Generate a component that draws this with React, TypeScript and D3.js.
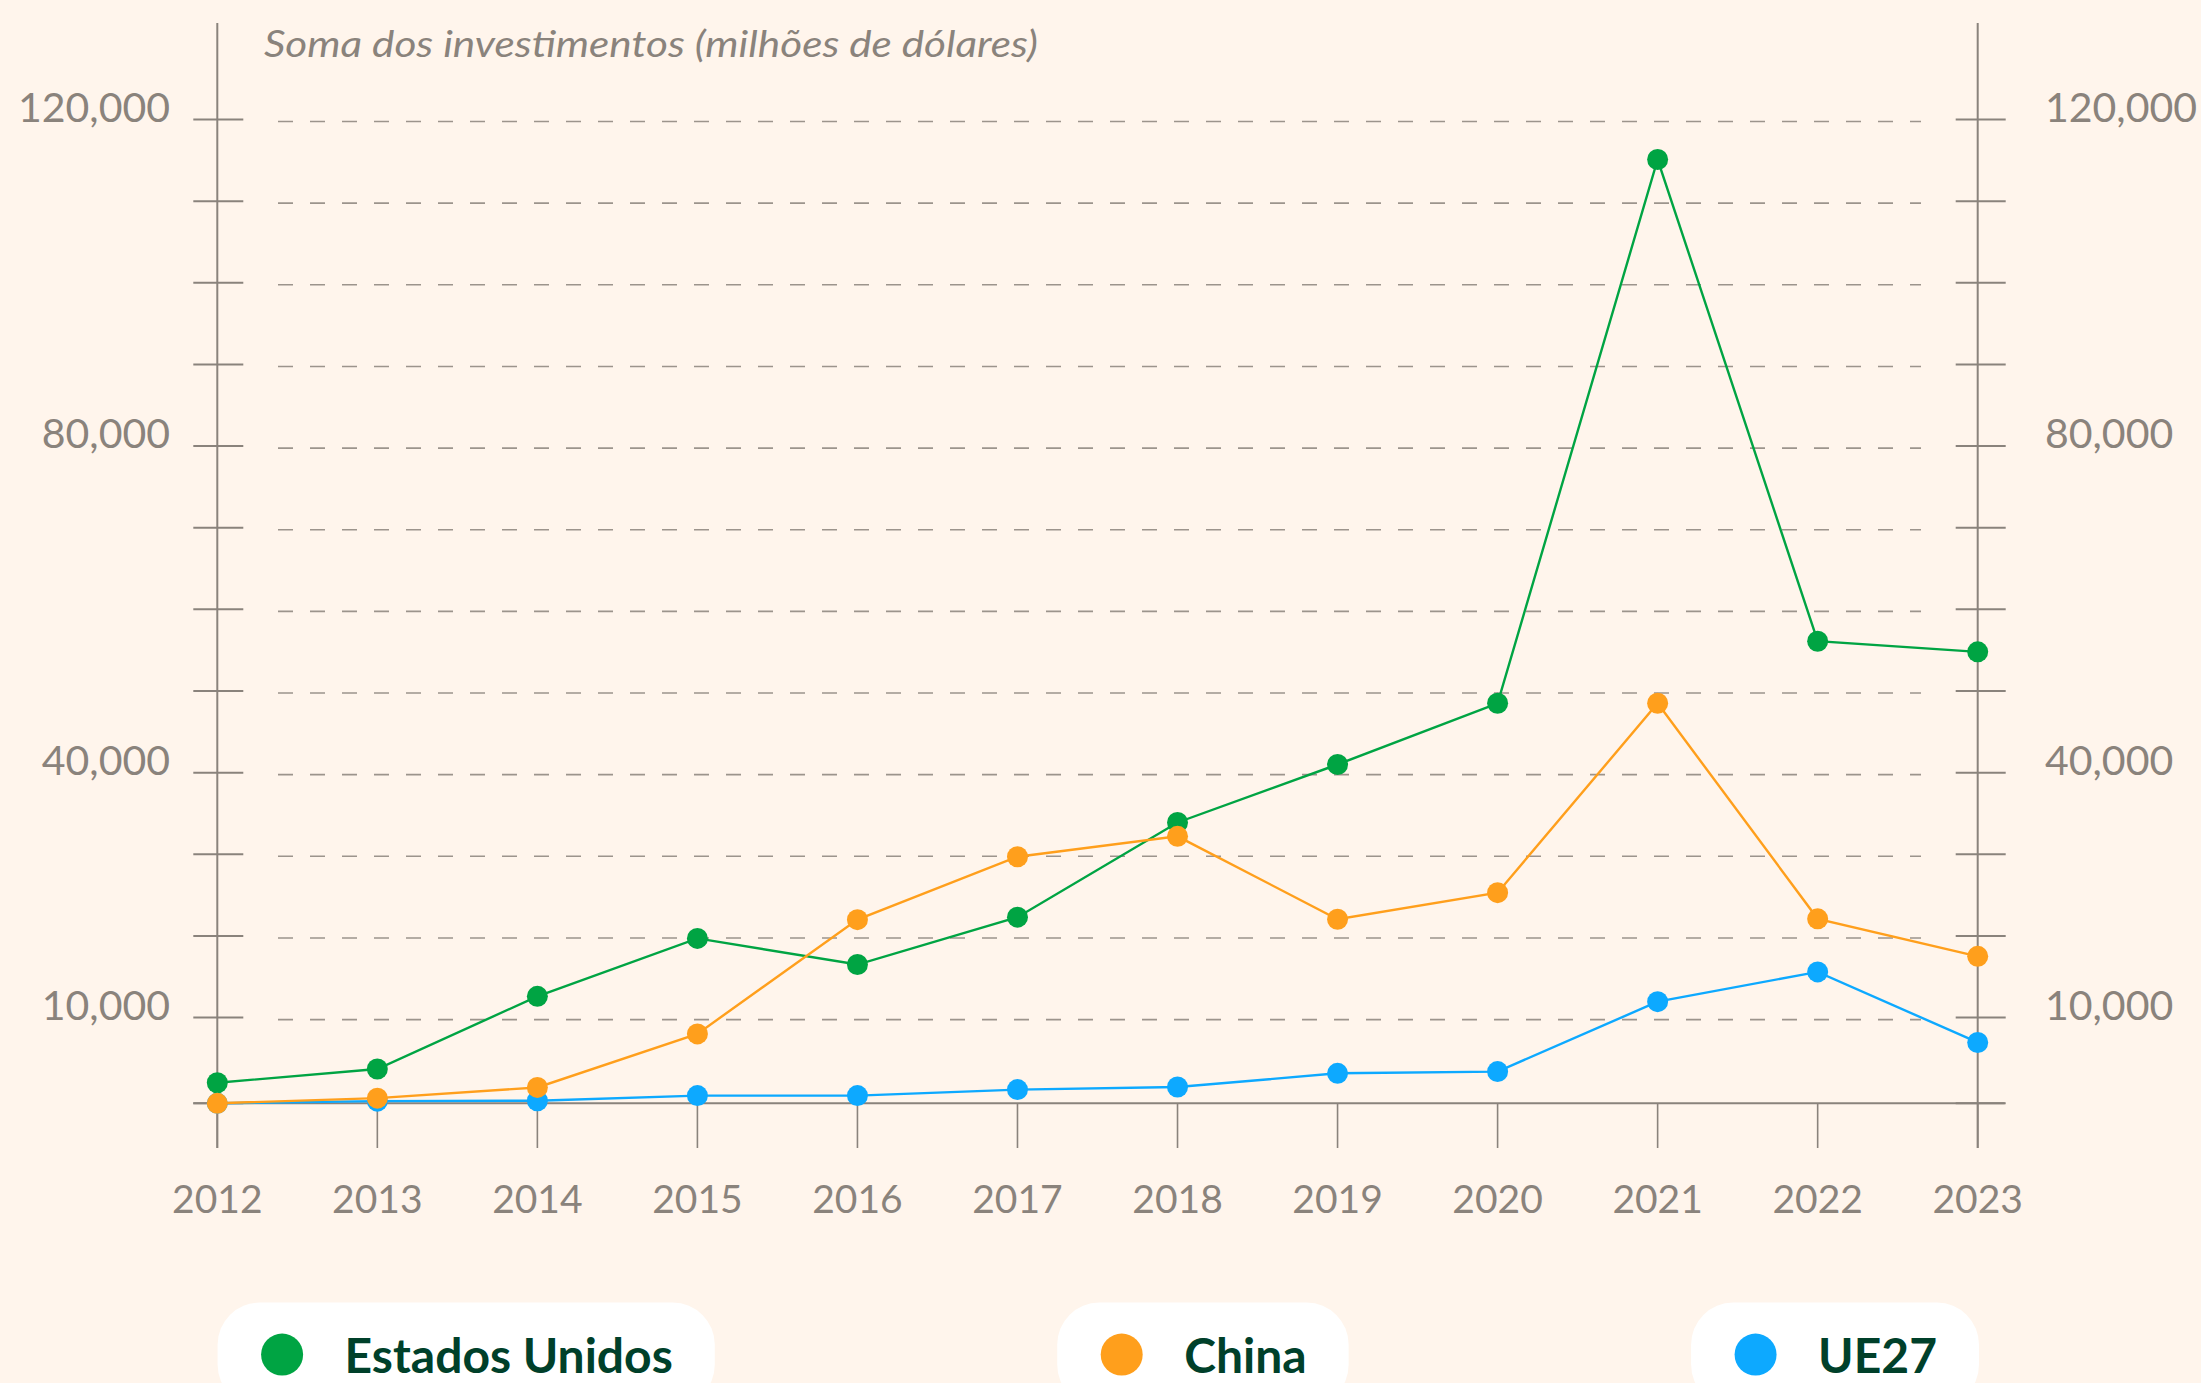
import React, { useMemo } from "react";
import * as d3 from "d3";

const years = [2012, 2013, 2014, 2015, 2016, 2017, 2018, 2019, 2020, 2021, 2022, 2023];
const usValues = [2400, 4000, 12600, 19700, 16500, 22300, 33900, 41000, 48500, 115100, 56100, 54800];
const chinaValues = [0, 600, 1850, 8100, 22000, 29700, 32200, 22050, 25300, 48500, 22100, 17500];
const euValues = [0, 250, 300, 900, 900, 1600, 1900, 3500, 3700, 11950, 15600, 7100];
const yTickValues = [0, 10000, 20000, 30000, 40000, 50000, 60000, 70000, 80000, 90000, 100000, 110000, 120000];
const gridValues = [10000, 20000, 30000, 40000, 50000, 60000, 70000, 80000, 90000, 100000, 110000, 120000];
const yLabelValues = [120000, 80000, 40000, 10000];
const seriesNames = ["Estados Unidos", "UE27", "China"];
const legendOrder = ["Estados Unidos", "China", "UE27"];
const title = "Soma dos investimentos (milhões de dólares)";

const W = 2201;
const H = 1383;
const BG = "#FFF5EC";
const AXIS = "#8A837C";
const GRID = "#9C948C";
const TEXT = "#8A837C";
const LEGEND_TEXT = "#00402A";
const colors: Record<string, string> = {
  "Estados Unidos": "#00A443",
  China: "#FF9F1C",
  UE27: "#0DA9FF",
};
const seriesData: Record<string, number[]> = {
  "Estados Unidos": usValues,
  China: chinaValues,
  UE27: euValues,
};

const FONT = "Lato, 'Open Sans', sans-serif";

function measure(text: string, font: string): number {
  const c = document.createElement("canvas");
  const ctx = c.getContext("2d");
  if (!ctx) return text.length * 25;
  ctx.font = font;
  return ctx.measureText(text).width;
}

export default function App() {
  const x = d3.scaleLinear().domain([2012, 2023]).range([217.3, 1977.7]);
  const y = d3.scaleLinear().domain([0, 10000, 120000]).range([1103.3, 1017.6, 119.5]);
  const fmt = d3.format(",");
  const line = d3
    .line<[number, number]>()
    .x((d) => x(d[0]))
    .y((d) => y(d[1]));

  const legendFont = `700 48px Lato`;
  const legendItems = useMemo(() => {
    const padL = 127;
    const padR = 42;
    const widths = legendOrder.map((n) => padL + measure(n, legendFont) + padR);
    const left = 217.6;
    const right = 1979;
    const total = widths.reduce((a, b) => a + b, 0);
    const gap = (right - left - total) / (legendOrder.length - 1);
    let cur = left;
    return legendOrder.map((n, i) => {
      const it = { name: n, x: cur, w: widths[i] };
      cur += widths[i] + gap;
      return it;
    });
  }, []);

  const leftX = x(2012);
  const rightX = x(2023);

  return (
    <svg
      width={W}
      height={H}
      viewBox={`0 0 ${W} ${H}`}
      style={{ position: "absolute", left: 0, top: 0, display: "block", background: BG }}
    >
      <rect x={0} y={0} width={W} height={H} fill={BG} />
      {/* grid lines */}
      {gridValues.map((v) => (
        <line
          key={"g" + v}
          x1={278}
          x2={1921}
          y1={y(v) + 2}
          y2={y(v) + 2}
          stroke={GRID}
          strokeWidth={1.6}
          strokeDasharray="15 17"
        />
      ))}
      {/* axes */}
      <line x1={leftX} x2={leftX} y1={23} y2={1148} stroke={AXIS} strokeWidth={2} />
      <line x1={rightX} x2={rightX} y1={23} y2={1148} stroke={AXIS} strokeWidth={2} />
      <line x1={leftX - 24} x2={rightX + 27} y1={y(0)} y2={y(0)} stroke={AXIS} strokeWidth={2} />
      {yTickValues.map((v) => (
        <g key={"t" + v}>
          <line x1={leftX - 24} x2={leftX + 26} y1={y(v)} y2={y(v)} stroke={AXIS} strokeWidth={2} />
          <line x1={rightX - 22} x2={rightX + 28} y1={y(v)} y2={y(v)} stroke={AXIS} strokeWidth={2} />
        </g>
      ))}
      {years.map((yr) => (
        <g key={"x" + yr}>
          <line x1={x(yr)} x2={x(yr)} y1={y(0)} y2={1148} stroke={AXIS} strokeWidth={1.6} />
          <text
            x={x(yr)}
            y={1213}
            textAnchor="middle"
            fontFamily={FONT}
            fontSize={39}
            fill={TEXT}
          >
            {yr}
          </text>
        </g>
      ))}
      {yLabelValues.map((v) => (
        <g key={"yl" + v}>
          <text x={170} y={y(v) + 2} textAnchor="end" fontFamily={FONT} fontSize={41} fill={TEXT}>
            {fmt(v)}
          </text>
          <text x={2045} y={y(v) + 2} textAnchor="start" fontFamily={FONT} fontSize={41} fill={TEXT}>
            {fmt(v)}
          </text>
        </g>
      ))}
      <text
        x={264}
        y={57}
        fontFamily={FONT}
        fontStyle="italic"
        fontSize={36}
        fill={TEXT}
        textLength={774}
        lengthAdjust="spacingAndGlyphs"
      >
        {title}
      </text>
      {/* series */}
      {seriesNames.map((name) => {
        const pts = years.map((yr, i) => [yr, seriesData[name][i]] as [number, number]);
        return (
          <g key={name}>
            <path d={line(pts) || ""} fill="none" stroke={colors[name]} strokeWidth={2.4} />
            {pts.map((p) => (
              <circle key={p[0]} cx={x(p[0])} cy={y(p[1])} r={10.5} fill={colors[name]} />
            ))}
          </g>
        );
      })}
      {/* legend */}
      {legendItems.map((it) => (
        <g key={"lg" + it.name}>
          <rect x={it.x} y={1302.6} width={it.w} height={104} rx={42} ry={42} fill="#FFFFFF" />
          <circle cx={it.x + 64.5} cy={1354.6} r={21} fill={colors[it.name]} />
          <text
            x={it.x + 127}
            y={1373}
            fontFamily="Lato"
            fontWeight={700}
            fontSize={48}
            fill={LEGEND_TEXT}
          >
            {it.name}
          </text>
        </g>
      ))}
    </svg>
  );
}
